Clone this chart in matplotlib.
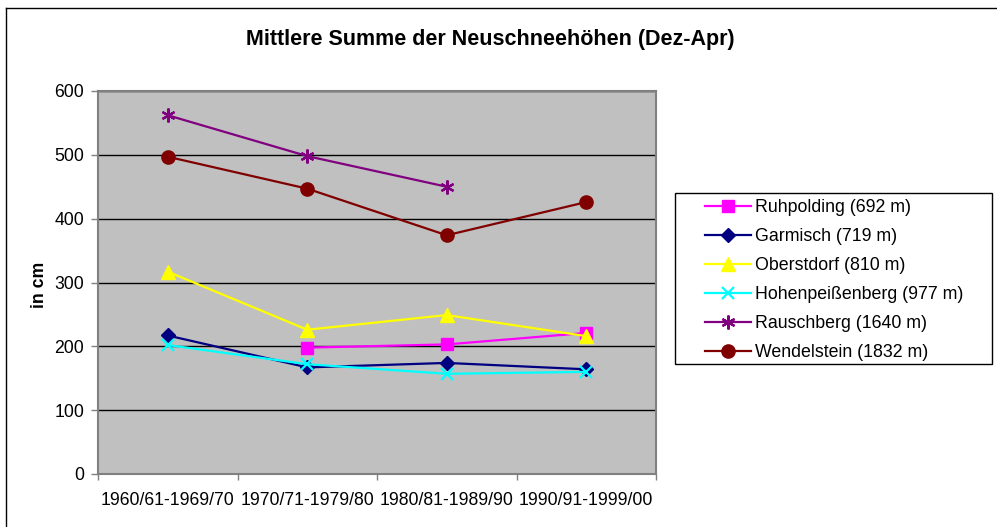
import numpy as np
import matplotlib
matplotlib.use("Agg")
import matplotlib.pyplot as plt
from matplotlib.patches import Rectangle
from matplotlib.lines import Line2D

plt.rcParams['font.family'] = ['Liberation Sans', 'DejaVu Sans']

categories = ["1960/61-1969/70", "1970/71-1979/80", "1980/81-1989/90", "1990/91-1999/00"]
ruhpolding = [np.nan, 198, 203, 221]
garmisch = [217, 167, 174, 164]
oberstdorf = [317, 226, 249, 216]
hohenpeissenberg = [202, 172, 157, 160]
rauschberg = [562, 498, 450, np.nan]
wendelstein = [497, 447, 374, 426]

series = [
    ("Ruhpolding (692 m)", ruhpolding, "#FF00FF", "s", 9),
    ("Garmisch (719 m)", garmisch, "#000080", "D", 7.5),
    ("Oberstdorf (810 m)", oberstdorf, "#FFFF00", "^", 9.5),
    ("Hohenpeißenberg (977 m)", hohenpeissenberg, "#00FFFF", "x", 9),
    ("Rauschberg (1640 m)", rauschberg, "#800080", (6, 2, 0), 10),
    ("Wendelstein (1832 m)", wendelstein, "#800000", "o", 9.5),
]

W, H = 997, 527
fig = plt.figure(figsize=(W / 100, H / 100), dpi=100)
fig.patch.set_facecolor("white")
# outer chart border (top and left visible)
fig.add_artist(Line2D([6 / W, 1.0], [1 - 8 / H, 1 - 8 / H], transform=fig.transFigure,
                      color="black", linewidth=1.0))
fig.add_artist(Line2D([6 / W, 6 / W], [0.0, 1 - 8 / H], transform=fig.transFigure,
                      color="black", linewidth=1.0))

ax = fig.add_axes([98 / W, 1 - 474 / H, 558 / W, 383 / H])
ax.set_facecolor("#C0C0C0")

x = np.arange(len(categories)) + 0.5
handles = []
for name, vals, col, mk, ms in series:
    v = np.array(vals, dtype=float)
    mew = 1.6 if mk in ("x",) or isinstance(mk, tuple) else 1.0
    h, = ax.plot(x, v, color=col, linewidth=1.6, marker=mk, markersize=ms,
                 markerfacecolor=col, markeredgecolor=col, markeredgewidth=mew, label=name,
                 zorder=3)
    handles.append(h)

ax.set_xlim(0, len(categories))
ax.set_ylim(0, 600)
ax.set_yticks(np.arange(0, 601, 100))
ax.yaxis.grid(True, color="black", linewidth=1.0)
ax.set_axisbelow(True)
ax.set_xticks(np.arange(0, len(categories) + 1))
ax.set_xticklabels([])
ax.set_xticks(x, minor=True)
ax.set_xticklabels(categories, minor=True)
ax.tick_params(axis="x", which="minor", length=0, pad=13, labelsize=12.7)
ax.tick_params(axis="x", which="major", length=4, width=1, color="#808080", direction="out")
ax.tick_params(axis="y", length=5, width=1, color="#808080", labelsize=12.7, pad=5)
for s in ax.spines.values():
    s.set_color("#808080")
    s.set_linewidth(1.5)

fig.text(490 / W, 1 - 40 / H, "Mittlere Summe der Neuschneehöhen (Dez-Apr)",
         ha="center", va="center", fontsize=15.5, fontweight="bold")
fig.text(40 / W, 1 - 285 / H, "in cm", rotation=90, ha="center", va="center",
         fontsize=12.7, fontweight="bold")

# legend box
fig.add_artist(Rectangle((675 / W, 1 - 364 / H), 317 / W, 171 / H, transform=fig.transFigure,
                         facecolor="white", edgecolor="black", linewidth=1.0, zorder=4))
leg = fig.legend(handles=handles, loc="upper left", bbox_to_anchor=(705 / W, 1 - 199 / H),
                 frameon=False, fontsize=12.8, handlelength=2.6, handletextpad=0.22,
                 labelspacing=0.675, borderpad=0, borderaxespad=0)
leg.set_zorder(5)

fig.savefig("out.png", dpi=100)
